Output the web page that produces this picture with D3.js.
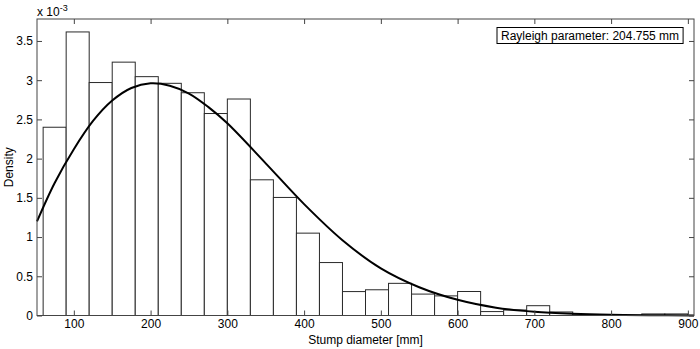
<!DOCTYPE html>
<html>
<head>
<meta charset="utf-8">
<script src="https://cdn.jsdelivr.net/npm/d3@7/dist/d3.min.js"></script>
<style>
  html, body { margin: 0; padding: 0; background: #fff; }
  svg { display: block; font-family: "Liberation Sans", Arial, sans-serif; }
</style>
</head>
<body>
<svg id="chart" width="700" height="349"></svg>
<script>
// ---- data (densities in units of 1e-3) ----
const binStarts = [60, 90, 120, 150, 180, 210, 240, 270, 300, 330, 360, 390, 420, 450,
                   480, 510, 540, 570, 600, 630, 660, 690, 720, 750, 780, 810, 840, 870];
const binWidth = 30;
const densities = [2.40, 3.615, 2.97, 3.23, 3.045, 2.96, 2.84, 2.575, 2.76, 1.73, 1.505, 1.05, 0.675, 0.305,
                   0.328, 0.41, 0.273, 0.25, 0.306, 0.05, 0.07, 0.125, 0.045, 0.008, 0.0, 0.0, 0.02, 0.02];
// fitted curve
const curveX = [52, 75, 100, 125, 150, 175, 200, 225, 250, 275, 300, 350, 400, 450, 500, 550, 600, 650, 700, 750, 800, 850, 908];
const curveY = [1.20, 1.69, 2.12, 2.48, 2.74, 2.90, 2.96, 2.93, 2.83, 2.66, 2.45, 1.94, 1.42, 0.96, 0.60, 0.36, 0.20, 0.10, 0.048, 0.022, 0.009, 0.004, 0.001];
const xTicks = [100, 200, 300, 400, 500, 600, 700, 800, 900];
const yTicks = [0, 0.5, 1, 1.5, 2, 2.5, 3, 3.5];
const yTickLabels = ["0", "0.5", "1", "1.5", "2", "2.5", "3", "3.5"];
const xTitle = "Stump diameter [mm]";
const yTitle = "Density";
const legendText = "Rayleigh parameter: 204.755 mm";

// ---- layout ----
const L = 37, R = 694, T = 19, B = 315.5;
const svg = d3.select("#chart");
const x = d3.scaleLinear().domain([52, 908]).range([L, R]);
const y = d3.scaleLinear().domain([0, 3.78]).range([B, T]);

// bars
svg.append("g").selectAll("rect").data(binStarts).join("rect")
  .attr("x", (d) => x(d))
  .attr("width", (d) => x(d + binWidth) - x(d))
  .attr("y", (d, i) => y(densities[i]))
  .attr("height", (d, i) => y(0) - y(densities[i]))
  .attr("fill", "#fff")
  .attr("stroke", "#2a2a2a")
  .attr("stroke-width", 1);

// curve
const line = d3.line()
  .x((d, i) => x(curveX[i]))
  .y((d) => y(d))
  .curve(d3.curveCatmullRom.alpha(0.5));
svg.append("path")
  .attr("d", line(curveY))
  .attr("fill", "none")
  .attr("stroke", "#000")
  .attr("stroke-width", 2);

// axes (MATLAB style: ticks inside, box)
const tickLen = 5;
const axisColor = "#444";
const fontSize = 12;

const xAxisB = d3.axisBottom(x).tickValues(xTicks).tickSize(-tickLen).tickPadding(4).tickSizeOuter(0);
const gxb = svg.append("g").attr("transform", `translate(0,${B})`).call(xAxisB);
const xAxisT = d3.axisTop(x).tickValues(xTicks).tickSize(-tickLen).tickFormat("").tickSizeOuter(0);
const gxt = svg.append("g").attr("transform", `translate(0,${T})`).call(xAxisT);
const yAxisL = d3.axisLeft(y).tickValues(yTicks).tickSize(-tickLen).tickPadding(4)
  .tickFormat((d, i) => yTickLabels[i]).tickSizeOuter(0);
const gyl = svg.append("g").attr("transform", `translate(${L},0)`).call(yAxisL);
const yAxisR = d3.axisRight(y).tickValues(yTicks).tickSize(-tickLen).tickFormat("").tickSizeOuter(0);
const gyr = svg.append("g").attr("transform", `translate(${R},0)`).call(yAxisR);

[gxb, gxt, gyl, gyr].forEach(g => {
  g.select(".domain").remove();
  g.selectAll("line").attr("stroke", axisColor);
  g.selectAll("text").attr("fill", "#000").style("font-size", fontSize + "px")
    .style("font-family", "'Liberation Sans', Arial, sans-serif");
});

// box
svg.append("rect")
  .attr("x", L).attr("y", T).attr("width", R - L).attr("height", B - T)
  .attr("fill", "none").attr("stroke", axisColor).attr("stroke-width", 1);

// exponent label
const exp = svg.append("text").attr("x", L).attr("y", 16)
  .style("font-size", fontSize + "px").attr("fill", "#000");
exp.append("tspan").text("x 10");
exp.append("tspan").attr("dy", -5).style("font-size", "9px").text("-3");

// axis titles
svg.append("text").attr("x", (L + R) / 2).attr("y", 344)
  .attr("text-anchor", "middle").style("font-size", fontSize + "px").text(xTitle);
svg.append("text").attr("transform", `translate(13,${(T + B) / 2}) rotate(-90)`)
  .attr("text-anchor", "middle").style("font-size", fontSize + "px").text(yTitle);

// legend box
const lg = svg.append("g");
const lt = lg.append("text").attr("x", 501).attr("y", 40)
  .style("font-size", fontSize + "px").text(legendText);
const bb = lt.node().getBBox();
lg.insert("rect", "text")
  .attr("x", bb.x - 4).attr("y", 27.5).attr("width", bb.width + 8).attr("height", 16)
  .attr("fill", "#fff").attr("stroke", "#000").attr("stroke-width", 1);
</script>
</body>
</html>
